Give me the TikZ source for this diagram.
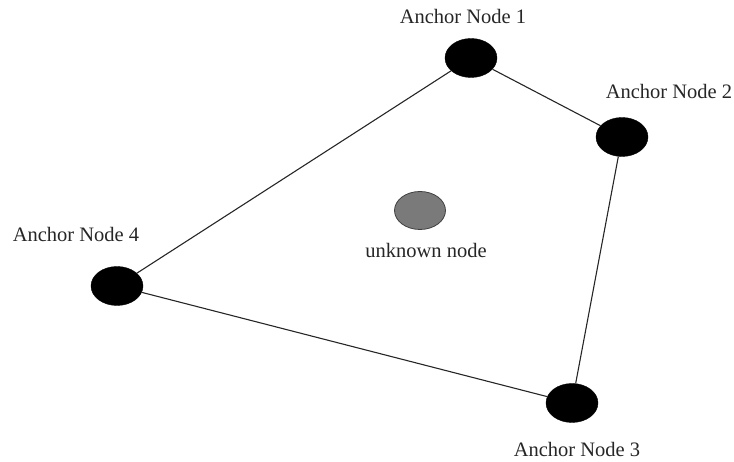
\documentclass[tikz,border=0pt]{standalone}
\usepackage{fontspec}
\setmainfont{Liberation Serif}
\usetikzlibrary{shapes.geometric}
\begin{document}
\begin{tikzpicture}[x=1pt,y=1pt,
  anchornode/.style={ellipse,fill=black,draw=black,minimum width=52pt,minimum height=39pt,inner sep=0pt},
  unknownnode/.style={ellipse,fill=black!52,draw=black!75,line width=0.8pt,minimum width=51pt,minimum height=38pt,inner sep=0pt},
  lbl/.style={font=\fontsize{20.5}{24}\selectfont,anchor=base,inner sep=0pt,text=black!85},
  link/.style={draw=black!85,line width=1.1pt}]
\useasboundingbox (0,0) rectangle (734,462);
% sensor nodes
\node[anchornode] (a1) at (471,404) {};
\node[anchornode] (a2) at (622,325) {};
\node[anchornode] (a3) at (572,59) {};
\node[anchornode] (a4) at (117,176) {};
\node[unknownnode] (u) at (420,251.5) {};
% labels
\node[lbl] (l1) at (463,438) {Anchor Node 1};
\node[lbl] (l2) at (669,363) {Anchor Node 2};
\node[lbl] (l3) at (577,5) {Anchor Node 3};
\node[lbl] (l4) at (76,220) {Anchor Node 4};
\node[lbl] (lu) at (426,204) {unknown node};
% connections between anchors
\draw[link] (a1) -- (a2);
\draw[link] (a2) -- (a3);
\draw[link] (a3) -- (a4);
\draw[link] (a4) -- (a1);
\end{tikzpicture}
\end{document}
